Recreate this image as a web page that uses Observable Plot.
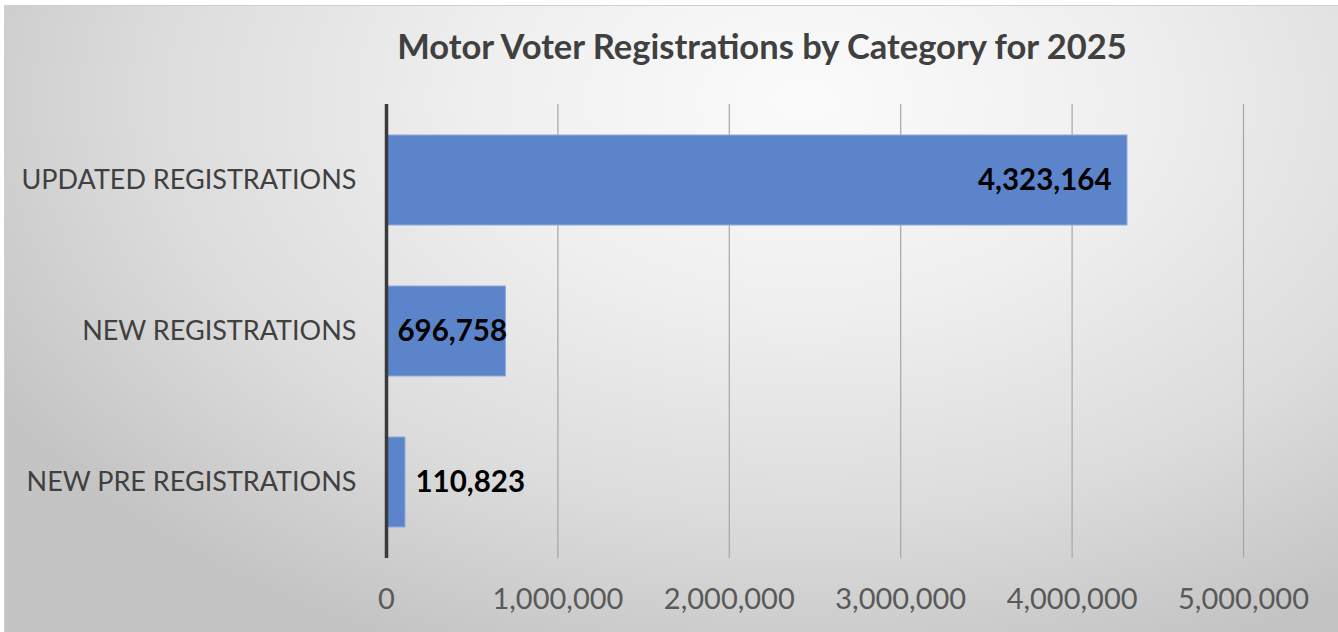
<!DOCTYPE html>
<html>
<head>
<meta charset="utf-8">
<script src="https://cdn.jsdelivr.net/npm/d3@7"></script>
<script src="https://cdn.jsdelivr.net/npm/@observablehq/plot@0.6"></script>
<style>
  html, body { margin: 0; padding: 0; background: #ffffff; }
  #wrap { position: relative; width: 1338px; height: 632px; overflow: hidden; }
  #bg { position: absolute; left: 4px; top: 5px; width: 1334px; height: 627px;
        border-top: 1px solid #cfcfcf; border-left: 1px solid #cfcfcf;
        background: radial-gradient(ellipse 70% 95% at 60% 15%, #fbfbfb 0%, #efefef 35%, #dcdcdc 70%, #c4c4c4 100%); }
  #title { position: absolute; left: 0; top: 0; width: 1338px; height: 90px; display: flex; align-items: center; justify-content: center;
           font-family: Lato, "Noto Sans", sans-serif; font-weight: bold; font-size: 34.5px; color: #404040; padding-left: 186px; box-sizing: border-box; padding-top: 0px; }
  #chart { position: absolute; left: 0; top: 90px; }
</style>
</head>
<body>
<div id="wrap">
  <div id="bg"></div>
  <div id="title">Motor Voter Registrations by Category for 2025</div>
  <div id="chart"></div>
</div>
<script>
const categories = ["UPDATED REGISTRATIONS", "NEW REGISTRATIONS", "NEW PRE REGISTRATIONS"];
const values = [4323164, 696758, 110823];
const xTicks = [0, 1000000, 2000000, 3000000, 4000000, 5000000];

const data = categories.map((c, i) => ({category: c, value: values[i]}));
const fmt = d3.format(",");
const font = "Lato, 'Noto Sans', sans-serif";

const plot = Plot.plot({
  width: 1338,
  height: 542,
  marginLeft: 386,
  marginRight: 95,
  marginTop: 14,
  marginBottom: 74,
  style: {background: "transparent", fontFamily: font, fontSize: "24px", color: "#595959"},
  x: {domain: [0, 5000000], ticks: xTicks, label: null},
  y: {domain: categories, paddingInner: 0.405, paddingOuter: 0.2025, label: null},
  marks: [
    Plot.ruleX(xTicks.slice(1), {stroke: "#a6a6a6", strokeWidth: 1.2}),
    Plot.barX(data, {x: "value", y: "category", fill: "#5b84cb", stroke: "#8eaadb", strokeWidth: 1}),
    Plot.ruleX([0], {stroke: "#3a3a3a", strokeWidth: 3.5}),
    Plot.axisX({ticks: xTicks, tickSize: 0, tickPadding: 30, tickFormat: fmt, fontSize: 29, fill: "#595959"}),
    Plot.axisY({tickSize: 0, tickPadding: 30, fontSize: 27, fill: "#404040"}),
    Plot.text(data.filter(d => d.category === categories[0]), {x: "value", y: "category", text: d => fmt(d.value), textAnchor: "end", dx: -16, fontWeight: "bold", fontSize: 29.5, fill: "#000"}),
    Plot.text(data.filter(d => d.category === categories[1]), {x: 0, y: "category", text: d => fmt(d.value), textAnchor: "start", dx: 11, fontWeight: "bold", fontSize: 29.5, fill: "#000"}),
    Plot.text(data.filter(d => d.category === categories[2]), {x: "value", y: "category", text: d => fmt(d.value), textAnchor: "start", dx: 10, fontWeight: "bold", fontSize: 29.5, fill: "#000"})
  ]
});
document.getElementById("chart").appendChild(plot);
</script>
</body>
</html>
